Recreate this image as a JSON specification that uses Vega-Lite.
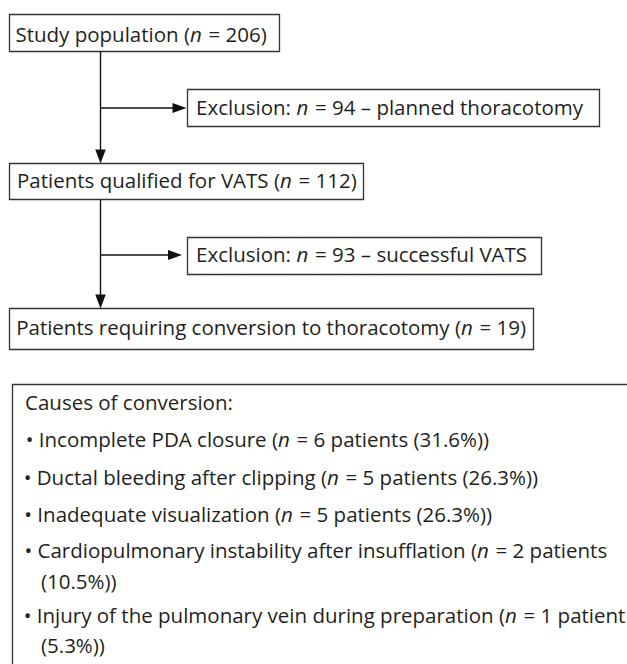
{
  "$schema": "https://vega.github.io/schema/vega-lite/v6.json",
  "width": 627,
  "height": 664,
  "padding": 0,
  "autosize": {"type": "none"},
  "background": "white",
  "config": {"view": {"stroke": null}},
  "datasets": {
    "boxes": [
      {"box": "Study population", "x": 9.5, "x2": 279.5, "y": 14.5, "y2": 51.5},
      {"box": "Exclusion 94", "x": 187.5, "x2": 599.5, "y": 89.5, "y2": 126.5},
      {"box": "Qualified for VATS", "x": 9.5, "x2": 363.5, "y": 163.5, "y2": 199.5},
      {"box": "Exclusion 93", "x": 187.5, "x2": 541.5, "y": 237.5, "y2": 274.5},
      {"box": "Conversion", "x": 9.5, "x2": 533.5, "y": 308.5, "y2": 349.5},
      {"box": "Causes", "x": 12.5, "x2": 660, "y": 384.5, "y2": 700}
    ],
    "lines": [
      {"line": "down 1", "x": 100.5, "x2": 100.5, "y": 51.5, "y2": 155},
      {"line": "right 1", "x": 100.5, "x2": 176, "y": 108, "y2": 108},
      {"line": "down 2", "x": 100.5, "x2": 100.5, "y": 199.5, "y2": 300},
      {"line": "right 2", "x": 100.5, "x2": 172, "y": 255, "y2": 255}
    ],
    "heads": [
      {"dir": "right", "x": 186.5, "y": 108},
      {"dir": "down", "x": 100.5, "y": 163.5},
      {"dir": "right", "x": 182, "y": 255},
      {"dir": "down", "x": 100.5, "y": 308.5}
    ],
    "nlabels": [
      {"y": 42, "xp": 190, "xn": 190, "pre": "Study population (", "post": "= 206)"},
      {"y": 115, "xp": 291, "xn": 296.5, "pre": "Exclusion:", "post": "= 94 – planned thoracotomy"},
      {"y": 188, "xp": 280, "xn": 280, "pre": "Patients qualified for VATS (", "post": "= 112)"},
      {"y": 262, "xp": 291, "xn": 296.5, "pre": "Exclusion:", "post": "= 93 – successful VATS"},
      {"y": 335, "xp": 461, "xn": 461, "pre": "Patients requiring conversion to thoracotomy (", "post": "= 19)"},
      {"y": 447, "xp": 278, "xn": 278, "pre": "• Incomplete PDA closure (", "post": "= 6 patients (31.6%))"},
      {"y": 485, "xp": 327, "xn": 327, "pre": "• Ductal bleeding after clipping (", "post": "= 5 patients (26.3%))"},
      {"y": 522, "xp": 281, "xn": 281, "pre": "• Inadequate visualization (", "post": "= 5 patients (26.3%))"},
      {"y": 558, "xp": 477, "xn": 477, "pre": "• Cardiopulmonary instability after insufflation (", "post": "= 2 patients"},
      {"y": 623, "xp": 505, "xn": 505, "pre": "• Injury of the pulmonary vein during preparation (", "post": "= 1 patient"}
    ],
    "plain": [
      {"x": 25, "y": 410, "label": "Causes of conversion:"},
      {"x": 41, "y": 589, "label": "(10.5%))"},
      {"x": 41, "y": 653, "label": "(5.3%))"}
    ]
  },
  "encoding": {
    "x": {"field": "x", "type": "quantitative", "axis": null, "scale": {"domain": [0, 627], "nice": false, "zero": false}},
    "y": {"field": "y", "type": "quantitative", "axis": null, "scale": {"domain": [0, 664], "nice": false, "zero": false, "reverse": true}}
  },
  "layer": [
    {
      "data": {"name": "boxes"},
      "mark": {"type": "rect", "fill": "white", "stroke": "#333333", "strokeWidth": 1.3, "clip": true},
      "encoding": {"x2": {"field": "x2"}, "y2": {"field": "y2"}}
    },
    {
      "data": {"name": "lines"},
      "mark": {"type": "rule", "stroke": "#111111", "strokeWidth": 1.4, "clip": true},
      "encoding": {"x2": {"field": "x2"}, "y2": {"field": "y2"}}
    },
    {
      "data": {"name": "heads"},
      "transform": [{"filter": "datum.dir === 'right'"}],
      "mark": {"type": "point", "shape": "M0,0 L-4,-1.4 L-4,1.4 Z", "size": 49, "filled": true, "fill": "#111111", "strokeWidth": 0, "opacity": 1}
    },
    {
      "data": {"name": "heads"},
      "transform": [{"filter": "datum.dir === 'down'"}],
      "mark": {"type": "point", "shape": "M0,0 L-1.5,-4 L1.5,-4 Z", "size": 49, "filled": true, "fill": "#111111", "strokeWidth": 0, "opacity": 1}
    },
    {
      "data": {"name": "plain"},
      "mark": {"type": "text", "align": "left", "baseline": "alphabetic", "font": "Open Sans", "fontSize": 20.5, "fill": "#231f20", "clip": true},
      "encoding": {"text": {"field": "label"}}
    },
    {
      "data": {"name": "nlabels"},
      "mark": {"type": "text", "align": "right", "baseline": "alphabetic", "font": "Open Sans", "fontSize": 20.5, "fill": "#231f20", "clip": true},
      "encoding": {"x": {"field": "xp", "type": "quantitative"}, "text": {"field": "pre"}}
    },
    {
      "data": {"name": "nlabels"},
      "mark": {"type": "text", "align": "left", "baseline": "alphabetic", "font": "Open Sans", "fontSize": 20.5, "fontStyle": "italic", "fill": "#231f20", "clip": true, "text": "n"},
      "encoding": {"x": {"field": "xn", "type": "quantitative"}}
    },
    {
      "data": {"name": "nlabels"},
      "mark": {"type": "text", "align": "left", "baseline": "alphabetic", "font": "Open Sans", "fontSize": 20.5, "fill": "#231f20", "clip": true, "dx": 18.5},
      "encoding": {"x": {"field": "xn", "type": "quantitative"}, "text": {"field": "post"}}
    }
  ]
}
